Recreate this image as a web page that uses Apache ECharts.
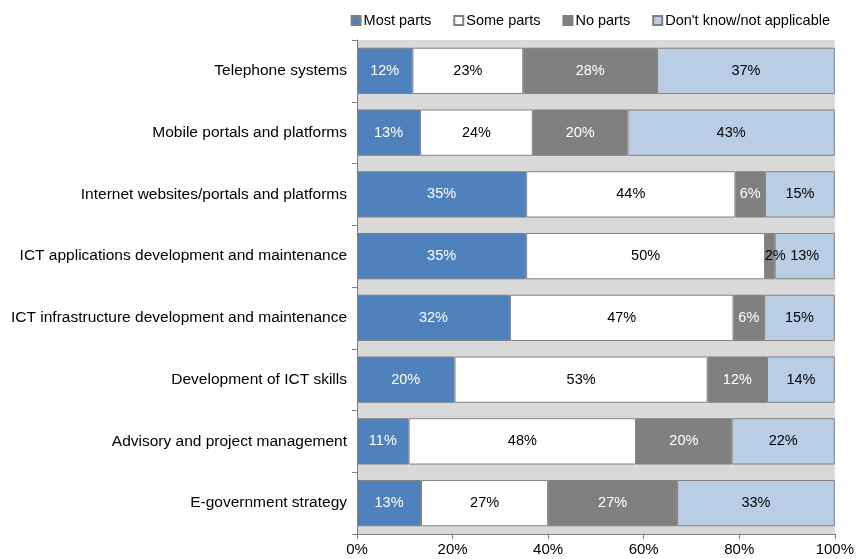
<!DOCTYPE html>
<html>
<head>
<meta charset="utf-8">
<script src="https://cdn.jsdelivr.net/npm/echarts@6/dist/echarts.min.js"></script>
<style>
  html, body { margin: 0; padding: 0; background: #fff; }
  #chart { width: 857px; height: 559px; }
</style>
</head>
<body>
<div id="chart"></div>
<script>
// categories, top to bottom
const categories = [
  'Telephone systems',
  'Mobile portals and platforms',
  'Internet websites/portals and platforms',
  'ICT applications development and maintenance',
  'ICT infrastructure development and maintenance',
  'Development of ICT skills',
  'Advisory and project management',
  'E-government strategy'
];
const mostParts = [11.6, 13.2, 35.4, 35.4, 32.0, 20.4, 10.8, 13.4];
const someParts = [23.2, 23.6, 43.8, 50.0, 46.8, 53.0, 47.6, 26.6];
const noParts   = [28.0, 19.8, 6.2, 2.0, 6.4, 12.4, 20.0, 27.0];
const dontKnow  = [37.2, 43.4, 14.6, 12.6, 14.8, 14.2, 21.6, 33.0];
const xTicks = [0, 20, 40, 60, 80, 100];

const font = 'Liberation Sans, Arial, sans-serif';

function makeSeries(name, values, color, labelColor) {
  return {
    name: name,
    type: 'bar',
    stack: 'total',
    barWidth: '75%',
    data: values.map(v => ({
      value: v,
      label: v < 4 ? { color: '#000', position: 'insideRight', offset: [16, 0] } : undefined
    })),
    itemStyle: { color: color, borderColor: '#808080', borderWidth: 1 },
    label: {
      show: true,
      color: labelColor,
      fontFamily: font,
      fontSize: 14.5,
      formatter: p => Math.round(p.value) + '%'
    }
  };
}

const chart = echarts.init(document.getElementById('chart'), null, { renderer: 'canvas' });
chart.setOption({
  animation: false,
  backgroundColor: '#fff',
  legend: {
    top: 8,
    right: 22,
    itemWidth: 9,
    itemHeight: 9,
    itemGap: 22,
    icon: 'rect',
    textStyle: { fontFamily: font, fontSize: 14.5, color: '#000', padding: [0, 0, 0, -2] },
    data: ['Most parts', 'Some parts', 'No parts', "Don't know/not applicable"]
  },
  grid: {
    left: 357,
    right: 22,
    top: 40,
    bottom: 25,
    show: true,
    backgroundColor: '#d9d9d9',
    borderWidth: 0
  },
  xAxis: {
    type: 'value',
    min: 0,
    max: 100,
    interval: 20,
    axisLine: { show: true, lineStyle: { color: '#808080' } },
    axisTick: { show: true, length: 5, lineStyle: { color: '#808080' } },
    splitLine: { show: false },
    axisLabel: {
      color: '#000',
      fontFamily: font,
      fontSize: 15,
      margin: 8,
      formatter: v => xTicks.includes(v) ? v + '%' : ''
    }
  },
  yAxis: {
    type: 'category',
    inverse: true,
    data: categories,
    axisLine: { show: true, lineStyle: { color: '#808080' } },
    axisTick: { show: true, length: 5, lineStyle: { color: '#808080' } },
    axisLabel: { color: '#000', fontFamily: font, fontSize: 15.5, margin: 10 }
  },
  series: [
    makeSeries('Most parts', mostParts, '#4f81bd', '#fff'),
    makeSeries('Some parts', someParts, '#ffffff', '#000'),
    makeSeries('No parts', noParts, '#808080', '#fff'),
    makeSeries("Don't know/not applicable", dontKnow, '#b9cde5', '#000')
  ]
});
</script>
</body>
</html>
